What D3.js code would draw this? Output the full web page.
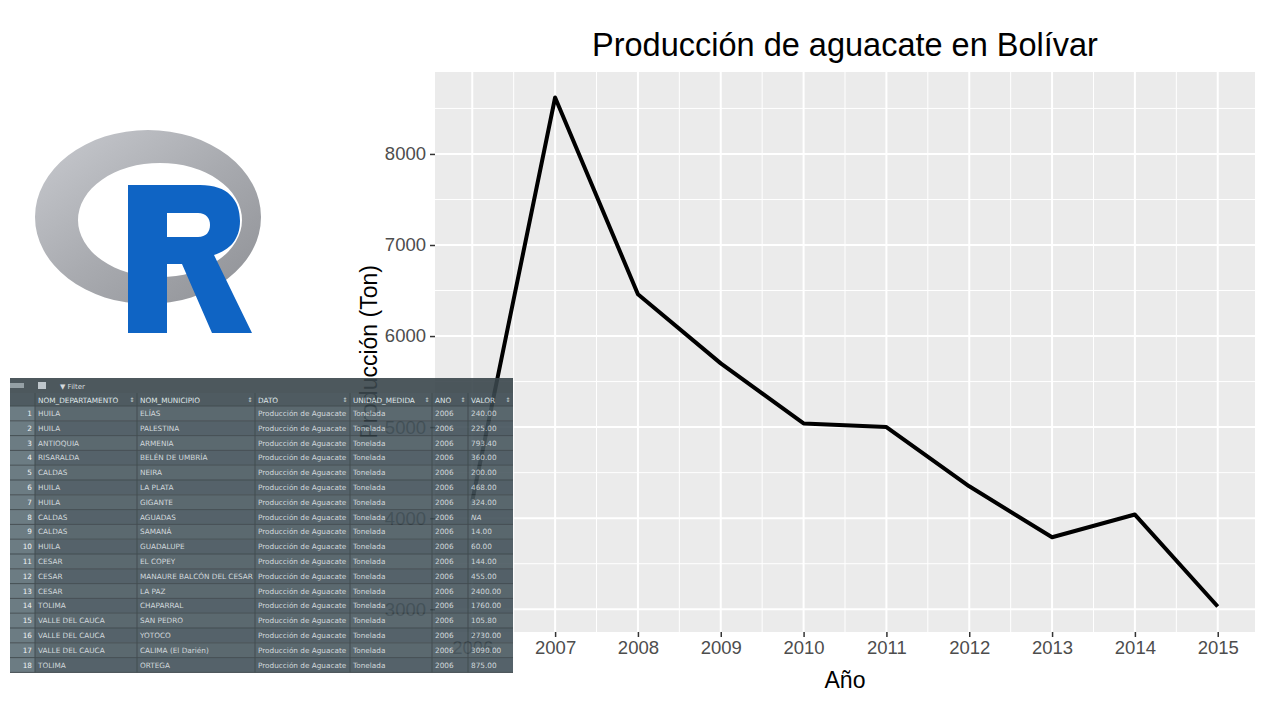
<!DOCTYPE html>
<html>
<head>
<meta charset="utf-8">
<script src="https://cdn.jsdelivr.net/npm/d3@7"></script>
<style>
  body { margin: 0; background: #fff; }
  svg { display: block; }
</style>
</head>
<body>
<script>
// chart data
var years = [2006, 2007, 2008, 2009, 2010, 2011, 2012, 2013, 2014, 2015];
var produccion = [4190, 8620, 6460, 5700, 5040, 5000, 4350, 3790, 4040, 3030];
var yTicks = [3000, 4000, 5000, 6000, 7000, 8000];

// table data (RStudio viewer screenshot)
var colNames = ["", "NOM_DEPARTAMENTO", "NOM_MUNICIPIO", "DATO", "UNIDAD_MEDIDA", "ANO", "VALOR"];
var departamentos = ["HUILA", "HUILA", "ANTIOQUIA", "RISARALDA", "CALDAS", "HUILA", "HUILA", "CALDAS", "CALDAS",
  "HUILA", "CESAR", "CESAR", "CESAR", "TOLIMA", "VALLE DEL CAUCA", "VALLE DEL CAUCA", "VALLE DEL CAUCA", "TOLIMA"];
var municipios = ["ELÍAS", "PALESTINA", "ARMENIA", "BELÉN DE UMBRÍA", "NEIRA", "LA PLATA", "GIGANTE", "AGUADAS", "SAMANÁ",
  "GUADALUPE", "EL COPEY", "MANAURE BALCÓN DEL CESAR", "LA PAZ", "CHAPARRAL", "SAN PEDRO", "YOTOCO", "CALIMA (El Darién)", "ORTEGA"];
var valores = ["240.00", "225.00", "793.40", "360.00", "200.00", "468.00", "324.00", "NA", "14.00",
  "60.00", "144.00", "455.00", "2400.00", "1760.00", "105.80", "2730.00", "3090.00", "875.00"];

var W = 1280, H = 720;
var svg = d3.select("body").append("svg").attr("width", W).attr("height", H);
var font = "Liberation Sans, Arial, sans-serif";

// ---------- R logo ----------
var defs = svg.append("defs");
var grad = defs.append("linearGradient").attr("id", "ring").attr("x1", "0").attr("y1", "0").attr("x2", "1").attr("y2", "1");
grad.append("stop").attr("offset", "0").attr("stop-color", "#c9cbd0");
grad.append("stop").attr("offset", "0.5").attr("stop-color", "#a9abb0");
grad.append("stop").attr("offset", "1").attr("stop-color", "#8e9095");

var logo = svg.append("g");
logo.append("path")
  .attr("fill-rule", "evenodd")
  .attr("fill", "url(#ring)")
  .attr("d", "M35,217 a113,87 0 1,0 226,0 a113,87 0 1,0 -226,0 Z " +
             "M78,220 a82,57 0 1,0 164,0 a82,57 0 1,0 -164,0 Z");
// letter R
logo.append("path")
  .attr("fill", "#0f64c4")
  .attr("fill-rule", "evenodd")
  .attr("d", "M128,185 L200,185 C228,185 240,200 240,221 C240,239 230,250 214,255 " +
             "L252,333 L212,333 L182,264 L167,264 L167,333 L128,333 Z " +
             "M167,213 L198,213 C206,213 210,218 210,225 C210,232 206,237 198,237 L167,237 Z");

// ---------- ggplot panel ----------
var m = { left: 435, right: 1255, top: 72, bottom: 632 };
var x = d3.scaleLinear().domain([2006 - 0.45, 2015 + 0.45]).range([m.left, m.right]);
var y = d3.scaleLinear().domain([2750, 8900]).range([m.bottom, m.top]);

svg.append("rect").attr("x", m.left).attr("y", m.top)
  .attr("width", m.right - m.left).attr("height", m.bottom - m.top).attr("fill", "#ebebeb");

var minorX = years.slice(0, -1).map(function(d) { return d + 0.5; });
var minorY = [2500, 3500, 4500, 5500, 6500, 7500, 8500].filter(function(d) { return y(d) >= m.top && y(d) <= m.bottom; });

svg.append("g").selectAll("line").data(minorX).join("line")
  .attr("x1", function(d) { return x(d); }).attr("x2", function(d) { return x(d); })
  .attr("y1", m.top).attr("y2", m.bottom).attr("stroke", "#fff").attr("stroke-width", 1);
svg.append("g").selectAll("line").data(minorY).join("line")
  .attr("y1", function(d) { return y(d); }).attr("y2", function(d) { return y(d); })
  .attr("x1", m.left).attr("x2", m.right).attr("stroke", "#fff").attr("stroke-width", 1);
svg.append("g").selectAll("line").data(years).join("line")
  .attr("x1", function(d) { return x(d); }).attr("x2", function(d) { return x(d); })
  .attr("y1", m.top).attr("y2", m.bottom).attr("stroke", "#fff").attr("stroke-width", 2);
svg.append("g").selectAll("line").data(yTicks).join("line")
  .attr("y1", function(d) { return y(d); }).attr("y2", function(d) { return y(d); })
  .attr("x1", m.left).attr("x2", m.right).attr("stroke", "#fff").attr("stroke-width", 2);

// axes
var xAxis = svg.append("g").attr("transform", "translate(0," + m.bottom + ")")
  .call(d3.axisBottom(x).tickValues(years).tickFormat(d3.format("d")).tickSize(5).tickPadding(4));
var yAxis = svg.append("g").attr("transform", "translate(" + m.left + ",0)")
  .call(d3.axisLeft(y).tickValues(yTicks).tickFormat(d3.format("d")).tickSize(5).tickPadding(4));
[xAxis, yAxis].forEach(function(a) {
  a.select(".domain").remove();
  a.selectAll("line").attr("stroke", "#333").attr("stroke-width", 1.5);
  a.selectAll("text").attr("fill", "#4d4d4d").style("font-family", font).style("font-size", "18.5px");
});

// line
svg.append("path").datum(years)
  .attr("fill", "none").attr("stroke", "#000").attr("stroke-width", 4).attr("stroke-linejoin", "round")
  .attr("d", d3.line().x(function(d) { return x(d); }).y(function(d, i) { return y(produccion[i]); }));

// titles
svg.append("text").attr("x", (m.left + m.right) / 2).attr("y", 56).attr("text-anchor", "middle")
  .style("font-family", font).style("font-size", "32.5px").attr("fill", "#000")
  .text("Producción de aguacate en Bolívar");
svg.append("text").attr("x", (m.left + m.right) / 2).attr("y", 688).attr("text-anchor", "middle")
  .style("font-family", font).style("font-size", "23px").attr("fill", "#000").text("Año");
svg.append("text").attr("transform", "translate(377," + ((m.top + m.bottom) / 2) + ") rotate(-90)")
  .attr("text-anchor", "middle").style("font-family", font).style("font-size", "23px").attr("fill", "#000")
  .text("Producción (Ton)");

// ---------- data table overlay ----------
var tbl = { x: 10, y: 378, w: 503 };
var colX = [10, 35, 137, 255, 350, 432, 468, 513];
var rowH = 14.8, headY = 393, firstRow = 406;
var t = svg.append("g").attr("opacity", 0.9);
var tFont = "DejaVu Sans, Verdana, sans-serif";

t.append("rect").attr("x", tbl.x).attr("y", tbl.y).attr("width", tbl.w).attr("height", headY - tbl.y).attr("fill", "#3a464c");
t.append("rect").attr("x", tbl.x).attr("y", headY).attr("width", tbl.w).attr("height", firstRow - headY).attr("fill", "#3c4a51");
t.append("text").attr("x", 60).attr("y", 389).attr("fill", "#cfd6da").style("font-family", tFont).style("font-size", "7px").text("▼ Filter");
t.append("rect").attr("x", 38).attr("y", 382).attr("width", 8).attr("height", 7).attr("fill", "#b9c2c7");
t.append("rect").attr("x", 10).attr("y", 383).attr("width", 14).attr("height", 5).attr("fill", "#8a969c");

var rows = d3.range(departamentos.length);
t.selectAll(".row").data(rows).join("rect")
  .attr("x", colX[1]).attr("y", function(i) { return firstRow + i * rowH; })
  .attr("width", colX[7] - colX[1]).attr("height", rowH)
  .attr("fill", function(i) { return i % 2 ? "#43525a" : "#4a5960"; });
t.selectAll(".idx").data(rows).join("rect")
  .attr("x", colX[0]).attr("y", function(i) { return firstRow + i * rowH; })
  .attr("width", colX[1] - colX[0]).attr("height", rowH).attr("fill", "#5d6e76");

// grid lines of the table
t.selectAll(".hl").data(d3.range(departamentos.length + 1)).join("line")
  .attr("x1", tbl.x).attr("x2", tbl.x + tbl.w)
  .attr("y1", function(i) { return firstRow + i * rowH; }).attr("y2", function(i) { return firstRow + i * rowH; })
  .attr("stroke", "#2f3a3f").attr("stroke-width", 1);
t.selectAll(".vl").data(colX.slice(1, -1)).join("line")
  .attr("x1", function(d) { return d; }).attr("x2", function(d) { return d; })
  .attr("y1", headY).attr("y2", firstRow + departamentos.length * rowH)
  .attr("stroke", "#2f3a3f").attr("stroke-width", 1);

// header text
t.selectAll(".hd").data(colNames).join("text")
  .attr("x", function(d, i) { return colX[i] + 3; }).attr("y", headY + 9.5)
  .attr("fill", "#dfe5e8").style("font-family", tFont).style("font-size", "7.3px").text(function(d) { return d; });
t.selectAll(".arr").data(colNames.slice(1)).join("text")
  .attr("x", function(d, i) { return colX[i + 2] - 5; }).attr("y", headY + 9)
  .attr("text-anchor", "middle").attr("fill", "#cfd6da").style("font-family", tFont).style("font-size", "6px").text("⇕");

// body text
var cells = [];
rows.forEach(function(i) {
  var vals = [String(i + 1), departamentos[i], municipios[i], "Producción de Aguacate", "Tonelada", "2006", valores[i]];
  vals.forEach(function(v, c) { cells.push({ r: i, c: c, v: v }); });
});
t.selectAll(".cell").data(cells).join("text")
  .attr("x", function(d) { return d.c === 0 ? colX[1] - 3 : colX[d.c] + 3; })
  .attr("y", function(d) { return firstRow + d.r * rowH + 10; })
  .attr("text-anchor", function(d) { return d.c === 0 ? "end" : "start"; })
  .attr("fill", function(d) { return d.c === 0 ? "#eef2f4" : "#cdd5d9"; })
  .style("font-family", tFont).style("font-size", "7.3px")
  .style("font-style", function(d) { return d.v === "NA" ? "italic" : "normal"; })
  .text(function(d) { return d.v; });
</script>
</body>
</html>
